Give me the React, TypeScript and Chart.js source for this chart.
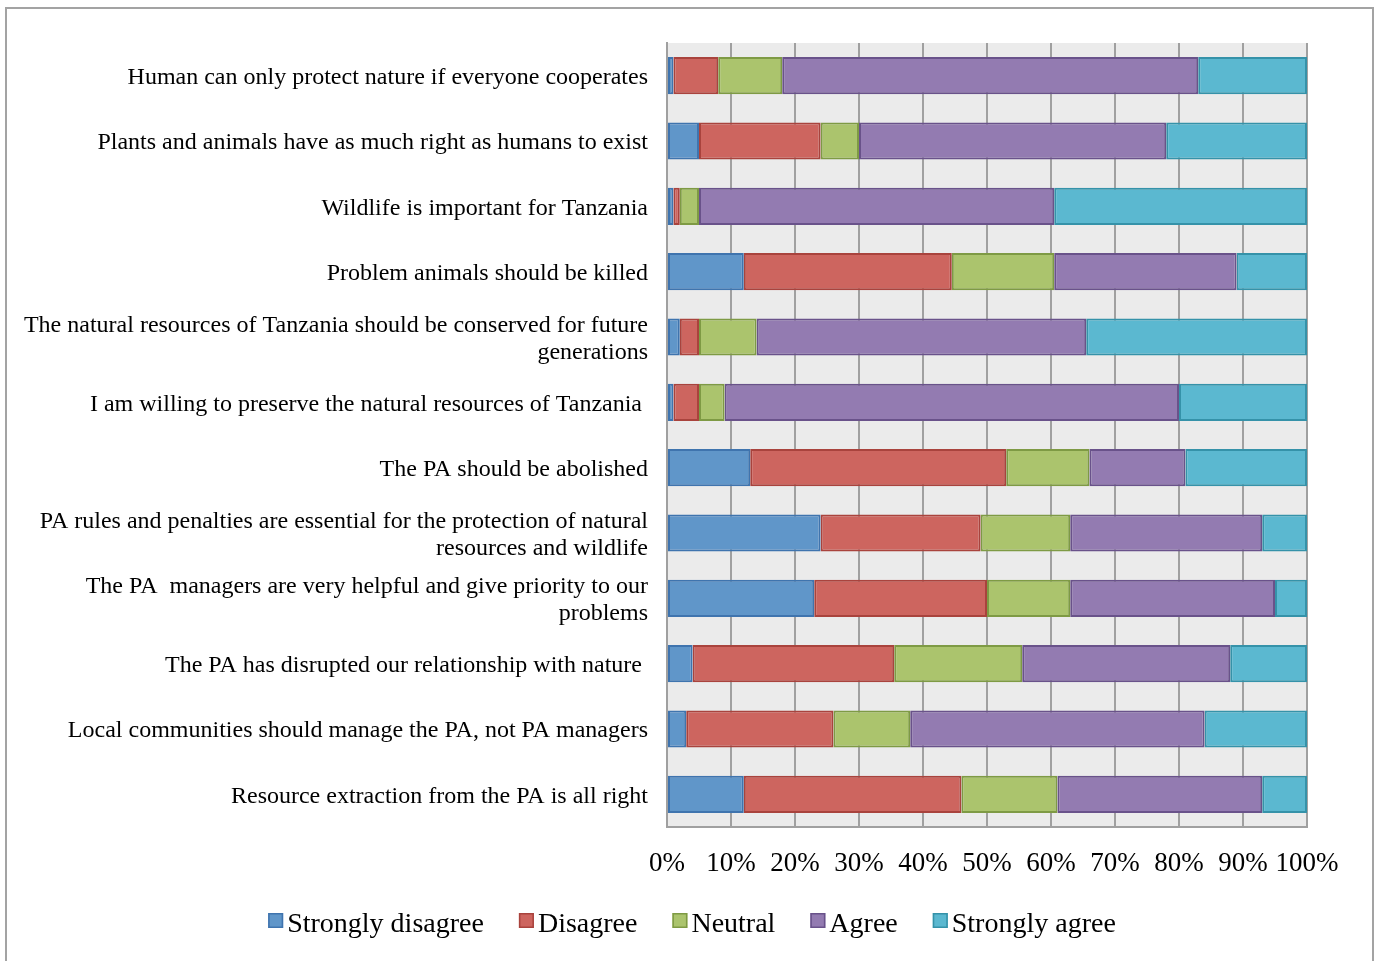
import React, { useEffect, useRef } from "react";
import { Chart, registerables } from "chart.js";

Chart.register(...registerables);

// Survey statements, top to bottom
const statements: (string | string[])[] = [
  "Human can only protect nature if everyone cooperates",
  "Plants and animals have as much right as humans to exist",
  "Wildlife is important for Tanzania",
  "Problem animals should be killed",
  ["The natural resources of Tanzania should be conserved for future", "generations"],
  "I am willing to preserve the natural resources of Tanzania ",
  "The PA should be abolished",
  ["PA rules and penalties are essential for the protection of natural", "resources and wildlife"],
  ["The PA  managers are very helpful and give priority to our", "problems"],
  "The PA has disrupted our relationship with nature ",
  "Local communities should manage the PA, not PA managers",
  "Resource extraction from the PA is all right",
];

// Share of respondents (%) per answer
const stronglyDisagree = [1, 5, 1, 12, 2, 1, 13, 24, 23, 4, 3, 12];
const disagree = [7, 19, 1, 32.5, 3, 4, 40, 25, 27, 31.5, 23, 34];
const neutral = [10, 6, 3, 16, 9, 4, 13, 14, 13, 20, 12, 15];
const agree = [65, 48, 55.5, 28.5, 51.5, 71, 15, 30, 32, 32.5, 46, 32];
const stronglyAgree = [17, 22, 39.5, 11, 34.5, 20, 19, 7, 5, 12, 16, 7];

const answerLabels = ["Strongly disagree", "Disagree", "Neutral", "Agree", "Strongly agree"];
const fills = ["#6096c9", "#cd655f", "#abc46d", "#937bb1", "#5bb8d0"];
const edges = ["#3f74ae", "#a9433d", "#7e9a44", "#69528a", "#3592a9"];

const percentTicks = [0, 10, 20, 30, 40, 50, 60, 70, 80, 90, 100];

const plotBackground = {
  id: "plotBackground",
  beforeDraw(chart: any) {
    const { ctx, chartArea } = chart;
    ctx.save();
    ctx.fillStyle = "#ebebeb";
    ctx.fillRect(chartArea.left, chartArea.top, chartArea.right - chartArea.left, chartArea.bottom - chartArea.top);
    ctx.restore();
  },
};

// Legend row under the axis: small bordered squares followed by the answer names
const bottomLegend = {
  id: "bottomLegend",
  afterDraw(chart: any) {
    const { ctx } = chart;
    const box = 15;
    const gapBoxText = 4;
    const gapItems = 35;
    ctx.save();
    ctx.font = "28px 'Liberation Serif', serif";
    ctx.textBaseline = "alphabetic";
    const items = chart.data.datasets.map((ds: any) => ({
      text: ds.label,
      fill: ds.backgroundColor,
      edge: ds.borderColor,
      w: ctx.measureText(ds.label).width,
    }));
    const total =
      items.reduce((s: number, it: any) => s + box + gapBoxText + it.w, 0) + gapItems * (items.length - 1);
    let x = 692 - total / 2;
    const boxTop = 913;
    const baseline = 932;
    items.forEach((it: any) => {
      ctx.fillStyle = it.fill;
      ctx.fillRect(x, boxTop, box, box);
      ctx.strokeStyle = it.edge;
      ctx.lineWidth = 1.5;
      ctx.strokeRect(x + 0.75, boxTop + 0.75, box - 1.5, box - 1.5);
      ctx.fillStyle = "#000";
      ctx.fillText(it.text, x + box + gapBoxText, baseline);
      x += box + gapBoxText + it.w + gapItems;
    });
    ctx.restore();
  },
};

export default function App() {
  const canvasRef = useRef<HTMLCanvasElement | null>(null);

  useEffect(() => {
    const canvas = canvasRef.current;
    if (!canvas) return;
    const series = [stronglyDisagree, disagree, neutral, agree, stronglyAgree];
    const chart = new Chart(canvas, {
      type: "bar",
      data: {
        labels: statements,
        datasets: series.map((values, i) => ({
          label: answerLabels[i],
          data: values,
          backgroundColor: fills[i],
          borderColor: edges[i],
          borderWidth: 2,
          borderSkipped: false,
          barPercentage: 0.57,
          categoryPercentage: 1,
        })),
      },
      options: {
        indexAxis: "y",
        responsive: false,
        animation: false,
        layout: { padding: { left: 0, right: 73, top: 43, bottom: 0 } },
        plugins: {
          legend: { display: false },
          tooltip: { enabled: false },
        },
        scales: {
          x: {
            stacked: true,
            min: 0,
            max: 100,
            afterBuildTicks(scale: any) {
              scale.ticks = percentTicks.map((v) => ({ value: v }));
            },
            afterFit(scale: any) {
              scale.height = 134;
            },
            grid: { color: "#a0a0a0", lineWidth: 2, drawTicks: false },
            border: { color: "#a0a0a0", width: 2 },
            ticks: {
              padding: 21,
              color: "#000",
              font: { family: "'Liberation Serif', serif", size: 27 },
              maxRotation: 0,
              autoSkip: false,
              callback: (v: any) => `${v}%`,
            },
          },
          y: {
            stacked: true,
            afterFit(scale: any) {
              scale.width = 667;
            },
            grid: { display: false, drawTicks: false },
            border: { color: "#a0a0a0", width: 2 },
            ticks: {
              padding: 19,
              labelOffset: 2,
              color: "#000",
              autoSkip: false,
              font: { family: "'Liberation Serif', serif", size: 24, lineHeight: 1.13 },
            },
          },
        },
      },
      plugins: [plotBackground, bottomLegend],
    });
    return () => chart.destroy();
  }, []);

  return (
    <div
      style={{
        position: "fixed",
        left: 0,
        top: 0,
        width: 1380,
        height: 961,
        overflow: "hidden",
        background: "#fff",
      }}
    >
      <div
        style={{
          position: "absolute",
          left: 5,
          top: 7,
          width: 1365,
          height: 1000,
          border: "2px solid #a3a3a3",
        }}
      />
      <canvas
        ref={canvasRef}
        width={1380}
        height={961}
        style={{ position: "absolute", left: 0, top: 0, width: 1380, height: 961 }}
      />
    </div>
  );
}
